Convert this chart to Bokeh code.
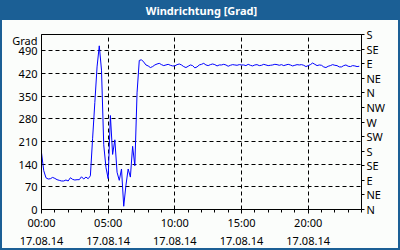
import pandas as pd
from bokeh.plotting import figure
from bokeh.models import (Range1d, LinearAxis, FixedTicker, DatetimeTickFormatter,
                          InlineStyleSheet, Title)
from bokeh.embed import file_html
from bokeh.resources import INLINE

# ---------------- data ----------------
chart_title = "Windrichtung [Grad]"
start_time = "2014-08-17 00:00"
sample_interval = "10min"
direction = [
    175, 120, 98, 94, 95, 99, 96, 92, 90, 88,
    88, 91, 88, 98, 93, 91, 92, 92, 101, 94,
    100, 95, 104, 220, 330, 440, 505, 430, 200, 130,
    95, 290, 170, 215, 115, 90, 125, 10, 75, 125,
    100, 195, 135, 360, 460, 462, 455, 446, 443, 438,
    441, 446, 449, 451, 447, 444, 446, 448, 445, 443,
    443, 447, 449, 446, 441, 438, 442, 446, 444, 437,
    440, 446, 448, 451, 446, 444, 447, 449, 447, 443,
    446, 446, 448, 446, 442, 445, 447, 446, 445, 447,
    446, 446, 444, 448, 445, 443, 446, 447, 444, 445,
    448, 446, 444, 445, 446, 448, 447, 445, 447, 444,
    446, 448, 446, 443, 445, 447, 446, 447, 445, 441,
    444, 447, 452, 448, 444, 446, 445, 440, 438, 442,
    444, 447, 445, 444, 440, 440, 444, 446, 442, 441,
    444, 443, 441, 442,
]
x_major_hours = [0, 5, 10, 15, 20]
x_span_hours = 24
y_ticks = [0, 70, 140, 210, 280, 350, 420, 490]
y_max = 540
y_unit_label = "Grad"
y_unit_pos = 522
compass_ticks = [0, 45, 90, 135, 180, 225, 270, 315, 360, 405, 450, 495, 540]
compass_labels = ["N", "NE", "E", "SE", "S", "SW", "W", "NW", "N", "NE", "E", "SE", "S"]

# ---------------- styles ----------------
BLUE = "#1b5f95"
BG = "#fbfdfb"
FONT = "Noto Sans"

times = pd.date_range(start_time, periods=len(direction), freq=sample_interval)
t0 = pd.Timestamp(start_time)
HOUR_MS = 3600000
t0_ms = t0.value // 10**6

p = figure(width=400, height=250, x_axis_type="datetime",
           x_range=Range1d(t0, t0 + pd.Timedelta(hours=x_span_hours)),
           y_range=Range1d(0, y_max),
           output_backend="svg", toolbar_location=None,
           min_border_left=41, min_border_right=39,
           min_border_top=0, min_border_bottom=39)

# transparent canvas border; panel look (title bar + frame) painted by CSS on the host
p.border_fill_alpha = 0
p.background_fill_color = BG
p.outline_line_color = "black"
p.outline_line_width = 1
p.stylesheets = [InlineStyleSheet(css=(
    ":host { background: linear-gradient(to bottom, %s 0px, %s 20px, %s 20px, %s 100%%);"
    " outline: 2px solid %s; outline-offset: -2px; }") % (BLUE, BLUE, BG, BG, BLUE))]

# title
p.title.text = chart_title
p.title.align = "center"
p.title.vertical_align = "top"
p.title.text_color = "white"
p.title.text_font = FONT
p.title.text_font_style = "bold"
p.title.text_font_size = "11px"
p.title.standoff = 4
# empty spacer between the title bar and the plot frame
p.add_layout(Title(text=" ", text_font_size="1px", standoff=10), "above")

p.line(times, direction, line_color="#0000ff", line_width=1)

# x axis
xa = p.xaxis[0]
xa.ticker = FixedTicker(ticks=[t0_ms + h * HOUR_MS for h in x_major_hours],
                        minor_ticks=[t0_ms + h * HOUR_MS for h in range(x_span_hours + 1)])
fmt = "%H:%M\n%d.%m.%y"
xa.formatter = DatetimeTickFormatter(hours=fmt, hourmin=fmt, minutes=fmt, minsec=fmt,
                                     days=fmt, months=fmt, years=fmt, seconds=fmt,
                                     milliseconds=fmt, microseconds=fmt)
xa.major_label_text_font = FONT
xa.major_label_text_font_size = "11px"
xa.major_label_text_color = "black"
xa.major_tick_out = 4
xa.major_tick_in = 0
xa.minor_tick_out = 3
xa.minor_tick_in = 0
xa.major_label_standoff = 1
xa.axis_line_color = "black"

# left axis
ya = p.yaxis[0]
ya.ticker = FixedTicker(ticks=y_ticks + [y_unit_pos])
ya.major_label_overrides = {y_unit_pos: y_unit_label}
ya.major_label_text_font = FONT
ya.major_label_text_font_size = "11px"
ya.major_label_text_color = "black"
ya.major_tick_out = 0
ya.major_tick_in = 0
ya.minor_tick_out = 0
ya.minor_tick_in = 0
ya.major_label_standoff = 4

# right compass axis
ra = LinearAxis(ticker=FixedTicker(ticks=compass_ticks),
                major_label_overrides={t: l for t, l in zip(compass_ticks, compass_labels)})
ra.major_label_text_font = FONT
ra.major_label_text_font_size = "11px"
ra.major_label_text_color = "black"
ra.major_tick_out = 3
ra.major_tick_in = 0
ra.minor_tick_out = 0
ra.minor_tick_in = 0
ra.major_label_standoff = 2
p.add_layout(ra, "right")

# grids
p.xgrid.ticker = FixedTicker(ticks=[t0_ms + h * HOUR_MS for h in x_major_hours[1:]])
p.ygrid.ticker = FixedTicker(ticks=y_ticks[1:])
for g in (p.xgrid[0], p.ygrid[0]):
    g.grid_line_color = "black"
    g.grid_line_dash = "4 3"
    g.grid_line_width = 1

open("out.html", "w").write(file_html(p, INLINE))
